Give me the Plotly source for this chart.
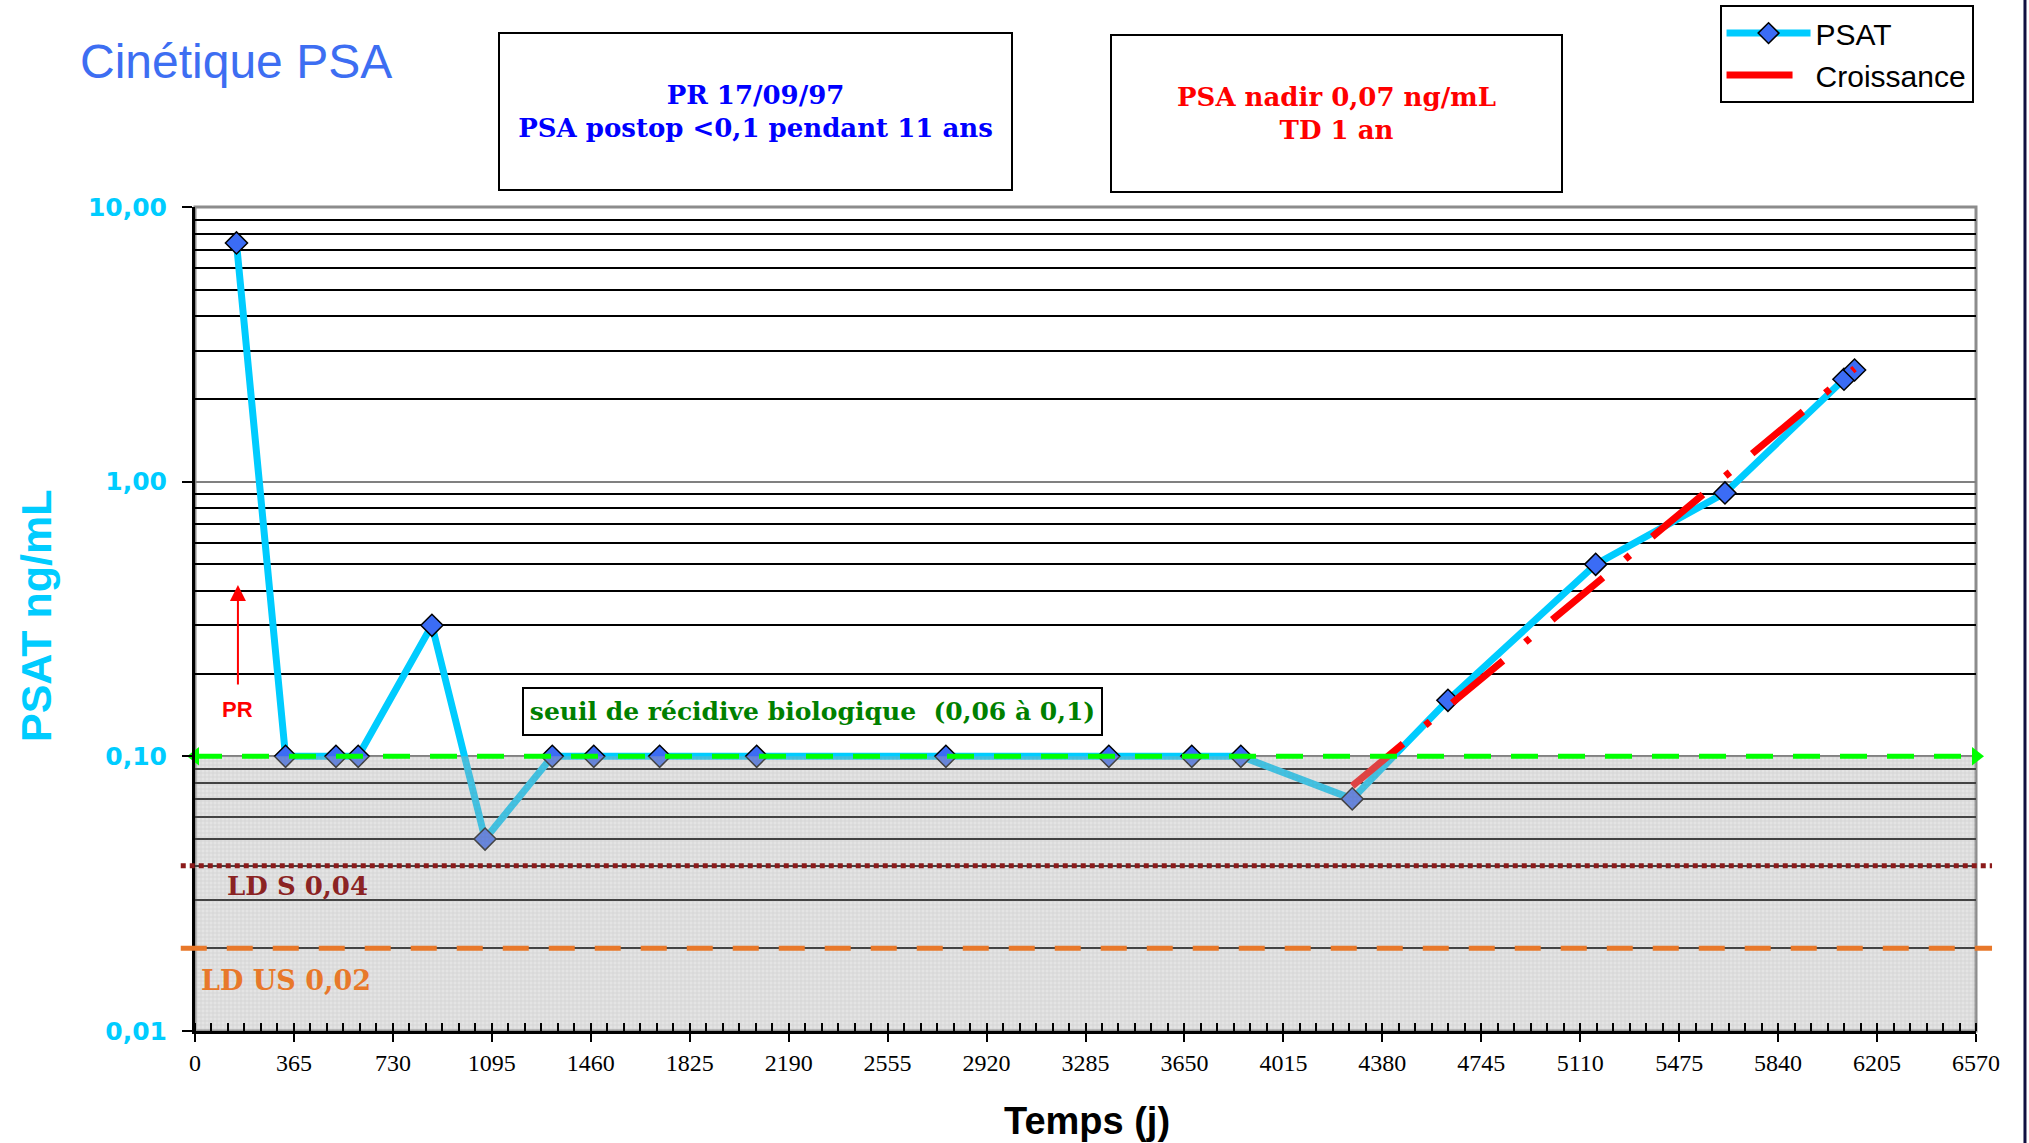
import plotly.graph_objects as go

# ---------------- data ----------------
days = [153, 334, 520, 602, 874, 1070, 1318, 1471, 1714, 2072, 2770, 3371,
        3677, 3858, 4269, 4622, 5167, 5644, 6083, 6122]
psat = [7.4, 0.10, 0.10, 0.10, 0.30, 0.05, 0.10, 0.10, 0.10, 0.10, 0.10, 0.10,
        0.10, 0.10, 0.07, 0.16, 0.50, 0.91, 2.36, 2.55]
croissance_days = [4269, 6122]
croissance_vals = [0.078, 2.58]
seuil = 0.10
ld_s = 0.04
ld_us = 0.02
x_min, x_max = 0, 6570
y_min, y_max = 0.01, 10
x_ticks = list(range(0, 6571, 365))
y_ticks = [0.01, 0.1, 1, 10]
y_ticklabels = ["0,01", "0,10", "1,00", "10,00"]
y_minor = [m * 10 ** e for e in (-2, -1, 0) for m in range(2, 10)]

SERIF = "Liberation Serif"
WSERIF = "DejaVu Serif"
SANS = "Liberation Sans"

fig = go.Figure()

# PSAT series
fig.add_trace(go.Scatter(
    x=days, y=psat, mode="lines+markers", name="PSAT",
    line=dict(color="#00CCFF", width=7),
    marker=dict(symbol="diamond", size=17, color="#3B6CF5",
                line=dict(color="black", width=1.5)),
    legendgroup="a",
))
# Croissance (exponential fit)
fig.add_trace(go.Scatter(
    x=croissance_days, y=croissance_vals, mode="lines", name="Croissance",
    line=dict(color="#FF0000", width=7, dash="66px,29px,6px,29px"),
    legendgroup="b",
))
# hatched zone below threshold
fig.add_trace(go.Scatter(
    x=[x_min, x_max, x_max, x_min, x_min], y=[y_min, y_min, seuil, seuil, y_min],
    mode="lines", line=dict(width=0), fill="toself",
    fillcolor="rgba(170,170,170,0.42)",
    fillpattern=dict(shape="+", size=4, solidity=0.25,
                     fgcolor="rgba(100,100,100,0.4)", bgcolor="rgba(180,180,180,0.36)"),
    showlegend=False, hoverinfo="skip",
))
# green threshold line with arrows
fig.add_trace(go.Scatter(
    x=[x_min, x_max], y=[seuil, seuil], mode="lines",
    line=dict(color="#00FF00", width=5, dash="27px,20px"),
    showlegend=False, hoverinfo="skip",
))
fig.add_trace(go.Scatter(
    x=[x_min, x_max], y=[seuil, seuil], mode="markers",
    marker=dict(symbol=["triangle-left", "triangle-right"], size=16, color="#00FF00"),
    cliponaxis=False, showlegend=False, hoverinfo="skip",
))

shapes = [
    dict(type="rect", xref="paper", yref="paper", x0=0, x1=1, y0=0, y1=1,
         line=dict(color="#8C8C8C", width=3), layer="below"),
    dict(type="line", xref="paper", yref="y", x0=-0.008, x1=1.009, y0=ld_s, y1=ld_s,
         line=dict(color="#8B1A1A", width=5, dash="5px,4px"), layer="above"),
    dict(type="line", xref="paper", yref="y", x0=-0.008, x1=1.009, y0=ld_us, y1=ld_us,
         line=dict(color="#E8782A", width=5, dash="26px,20px"), layer="above"),
    dict(type="line", xref="paper", yref="paper", x0=1.0275, x1=1.0275, y0=-0.14, y1=1.26,
         line=dict(color="#101040", width=3), layer="above"),
]


def ann(text, x, y, **kw):
    d = dict(text=text, xref="paper", yref="paper", x=x, y=y, showarrow=False,
             xanchor="center", yanchor="middle")
    d.update(kw)
    return d


annotations = [
    ann("Cinétique PSA", 0.023, 1.177,
        font=dict(family=SANS, size=48, color="#3D6EF2")),
    ann("<b>PR 17/09/97</b><br><b>PSA postop &lt;0,1 pendant 11 ans</b>", 0.3147, 1.116,
        width=511, height=155, bordercolor="black", borderwidth=2, borderpad=0,
        bgcolor="white", valign="middle",
        font=dict(family=WSERIF, size=26, color="#0000FF")),
    ann("<b>PSA nadir 0,07 ng/mL</b><br><b>TD 1 an</b>", 0.641, 1.1135,
        width=449, height=155, bordercolor="black", borderwidth=2, borderpad=0,
        bgcolor="white", valign="middle",
        font=dict(family=WSERIF, size=26, color="#FF0000")),
    ann("<b>seuil de récidive biologique  (0,06 à 0,1)</b>", 0.3467, 0.3877,
        width=577, height=45, bordercolor="black", borderwidth=2, borderpad=0,
        bgcolor="white", valign="middle",
        font=dict(family=WSERIF, size=25, color="#008000")),
    ann("<b>LD S 0,04</b>", 0.0576, 0.176,
        font=dict(family=WSERIF, size=26, color="#8B2323")),
    ann("<b>LD US 0,02</b>", 0.051, 0.0607,
        font=dict(family=WSERIF, size=27, color="#E8782A")),
    ann("<b>PR</b>", 0.0241, 0.3896,
        font=dict(family=SANS, size=22, color="#FF0000")),
    dict(text="", xref="paper", yref="paper", x=0.0241, y=0.5413, ax=0, ay=101,
         showarrow=True, arrowhead=2, arrowsize=1.6, arrowwidth=2, arrowcolor="#FF0000"),
    ann("<b>PSAT ng/mL</b>", -0.0893, 0.5036, textangle=-90,
        font=dict(family=SANS, size=43, color="#00CCFF")),
    ann("<b>Temps (j)</b>", 0.5008, -0.1092,
        font=dict(family=SANS, size=38, color="black")),
]

fig.update_layout(
    width=2029, height=1143,
    margin=dict(l=195, r=53, t=207, b=112, autoexpand=False),
    paper_bgcolor="white", plot_bgcolor="white",
    shapes=shapes, annotations=annotations,
    showlegend=True,
    legend=dict(x=0.856, y=1.245, xanchor="left", yanchor="top",
                bordercolor="black", borderwidth=2, bgcolor="white",
                font=dict(family=SANS, size=30, color="black"),
                itemwidth=84, tracegroupgap=0),
    xaxis=dict(range=[x_min, x_max], tickvals=x_ticks, ticktext=[str(v) for v in x_ticks],
               showgrid=False, zeroline=False, showline=True, linecolor="black", linewidth=3,
               ticks="outside", ticklen=8, tickwidth=2, tickcolor="black",
               ticklabelstandoff=0,
               tickfont=dict(family=SERIF, size=24, color="black"),
               minor=dict(dtick=365 / 6, tick0=0, ticks="inside", ticklen=8, tickwidth=1.5,
                          tickcolor="black", showgrid=False)),
    yaxis=dict(type="log", range=[-2, 1], tickvals=y_ticks, ticktext=y_ticklabels,
               showgrid=True, gridcolor="#808080", gridwidth=2, zeroline=False,
               showline=True, linecolor="black", linewidth=3,
               ticks="outside", ticklen=10, tickwidth=2, tickcolor="black",
               ticklabelstandoff=10,
               tickfont=dict(family="DejaVu Sans", size=25, color="#00CCFF", weight="bold"),
               minor=dict(tickvals=y_minor, showgrid=True, gridcolor="black", gridwidth=2,
                          ticks="")),
)

fig.write_html("out.html")
